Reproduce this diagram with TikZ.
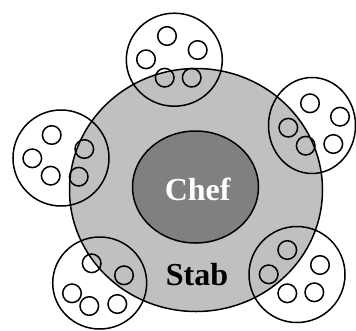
\documentclass[tikz,border=0pt]{standalone}
\usepackage{fontspec}
\setmainfont{Liberation Serif}
\begin{document}
\begin{tikzpicture}[x=1pt,y=-1pt,
  line width=1.5pt,
  stabfill/.style={fill={rgb,255:red,192;green,192;blue,192},draw=black},
  cheffill/.style={fill={rgb,255:red,128;green,128;blue,128},draw=black},
  grp/.style={draw=black},
  person/.style={draw=black},
  lbl/.style={font=\fontsize{32}{32}\selectfont\bfseries,anchor=base,inner sep=0pt}]
\useasboundingbox (0,0) rectangle (356,330);
\begin{scope}
\clip (0,0) rectangle (356,330);
% Stab
\draw[stabfill] (196,190) ellipse [x radius=126.5,y radius=121.5];
% Chef
\draw[cheffill] (195.5,187) ellipse [x radius=63,y radius=56];
% top group
\draw[grp] (174.3,59.7) ellipse [x radius=48,y radius=46.5];
\foreach \p in {(167,36),(197.7,50),(146,59.3),(164.7,77.7),(191.7,77.7)}
  \draw[person] \p circle [radius=9.3];
% right group
\draw[grp] (312,125.5) ellipse [x radius=43.5,y radius=48];
\foreach \p in {(288.3,127.7),(310,103.3),(340,116.7),(305.7,145.7),(333.3,144)}
  \draw[person] \p circle [radius=9.3];
% left group
\draw[grp] (61,158) circle [radius=48];
\foreach \p in {(51.7,135),(32.3,158.3),(84.3,149),(50.7,175.7),(78.7,176.7)}
  \draw[person] \p circle [radius=9.3];
% bottom-left group
\draw[grp] (99.7,283) ellipse [x radius=47,y radius=46];
\foreach \p in {(91.7,263.3),(124,275.3),(72,293.3),(89.3,306),(117.3,304)}
  \draw[person] \p circle [radius=9.3];
% bottom-right group
\draw[grp] (297,274.5) circle [radius=48];
\foreach \p in {(287.3,250),(268.7,274.3),(320,265),(287.3,293.3),(314.3,292.3)}
  \draw[person] \p circle [radius=9.3];
\end{scope}
\node[lbl,text=white] (chef) at (197.7,200) {Chef};
\node[lbl,text=black] (stab) at (197,285.5) {Stab};
\end{tikzpicture}
\end{document}
